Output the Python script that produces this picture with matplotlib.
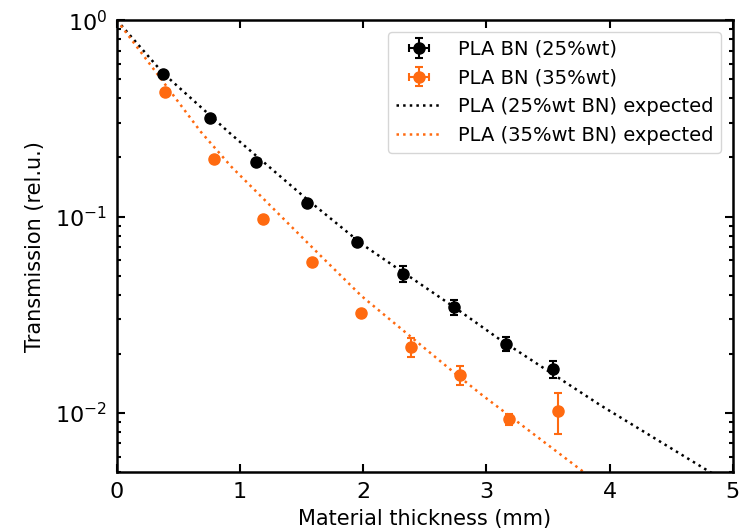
import numpy as np
import matplotlib
matplotlib.use("Agg")
import matplotlib.pyplot as plt

# measured points
x25 = [0.376, 0.755, 1.126, 1.54, 1.95, 2.325, 2.735, 3.155, 3.537]
t25 = [0.531, 0.316, 0.189, 0.117, 0.0744, 0.051, 0.0345, 0.0225, 0.0167]
e25 = [0.008, 0.005, 0.004, 0.003, 0.003, 0.0047, 0.003, 0.0018, 0.0016]

x35 = [0.392, 0.79, 1.188, 1.588, 1.986, 2.386, 2.784, 3.18, 3.58]
t35 = [0.431, 0.197, 0.097, 0.0589, 0.0324, 0.0216, 0.0156, 0.0093, 0.0102]
e35 = [0.006, 0.003, 0.0015, 0.001, 0.0006, 0.0024, 0.0017, 0.0006, 0.0024]

xerr = 0.02

# expected curves
xe25 = [0, 0.376, 0.917, 1.54, 2.0, 2.735, 3.095, 3.92, 4.786, 5.0]
te25 = [1.0, 0.537, 0.266, 0.123, 0.0716, 0.0347, 0.0240, 0.0110, 0.00513, 0.00427]
xe35 = [0, 0.682, 0.931, 1.634, 1.986, 2.73, 2.96, 3.786, 4.0]
te35 = [1.0, 0.270, 0.179, 0.0650, 0.0394, 0.0162, 0.0124, 0.00502, 0.00398]

orange = '#ff6a10'

fig = plt.figure(figsize=(7.44, 5.31), dpi=100)
ax = fig.add_axes([0.157, 0.111, 0.828, 0.851])

h1 = ax.errorbar(x25, t25, yerr=e25, xerr=xerr, fmt='o', color='black', ms=8,
                 capsize=3, elinewidth=1.5, capthick=1.5, label='PLA BN (25%wt)')
h2 = ax.errorbar(x35, t35, yerr=e35, xerr=xerr, fmt='o', color=orange, ms=8,
                 capsize=3, elinewidth=1.5, capthick=1.5, label='PLA BN (35%wt)')
h3, = ax.plot(xe25, te25, ':', color='black', lw=1.8, label='PLA (25%wt BN) expected')
h4, = ax.plot(xe35, te35, ':', color=orange, lw=1.8, label='PLA (35%wt BN) expected')

ax.set_yscale('log')
ax.set_xlim(0, 5)
ax.set_ylim(0.005, 1)
ax.set_xlabel('Material thickness (mm)', fontsize=15, labelpad=5)
ax.set_ylabel('Transmission (rel.u.)', fontsize=15, labelpad=7)
ax.tick_params(which='both', direction='in', top=True, right=True, labelsize=16, width=1.5)
ax.tick_params(which='major', length=6, pad=7)
ax.tick_params(which='minor', length=3)
for s in ax.spines.values():
    s.set_linewidth(1.8)

ax.legend(handles=[h1, h2, h3, h4], loc='upper right', fontsize=14,
          handlelength=2.4, borderaxespad=0.6)

fig.savefig('out.png', dpi=100)
